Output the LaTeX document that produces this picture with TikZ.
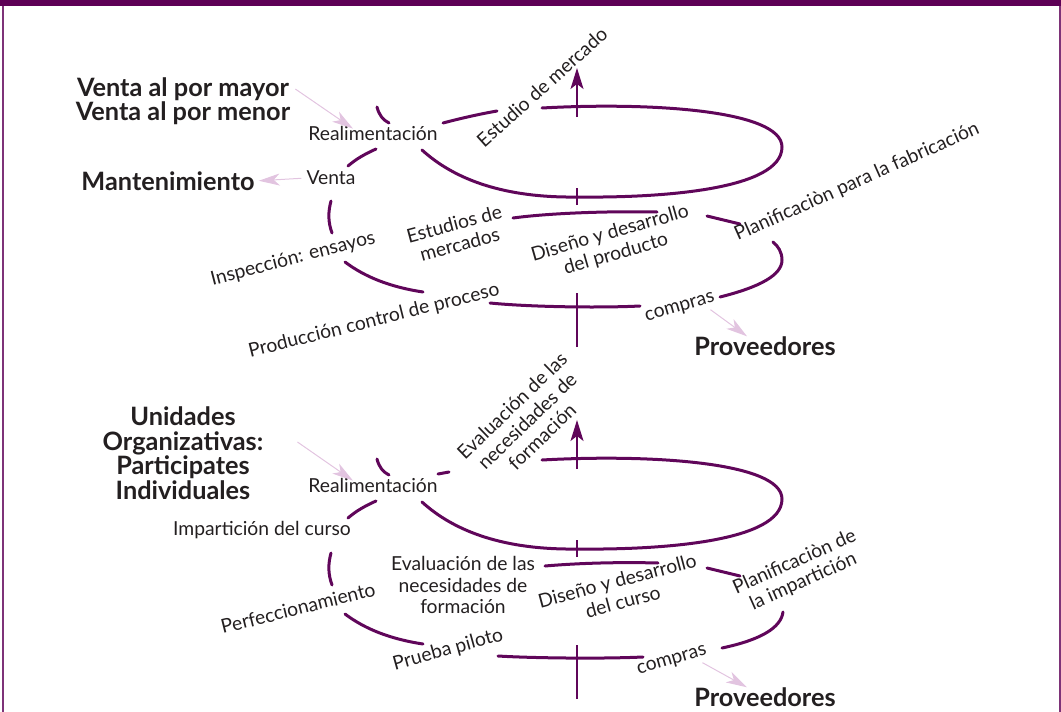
\documentclass[tikz,border=0pt]{standalone}
\usepackage{fontspec}
\setmainfont{Lato}
\usetikzlibrary{arrows.meta}

\definecolor{spiral}{RGB}{96,6,90}
\definecolor{band}{RGB}{94,0,86}
\definecolor{hintpink}{RGB}{226,196,224}
\definecolor{ink}{RGB}{35,31,32}

\begin{document}
\begin{tikzpicture}[
  x=1pt, y=-1pt,
  lbl/.style={font=\fontsize{19.3}{21.5}\selectfont, text=ink, inner sep=0pt, align=center},
  big/.style={font=\bfseries\fontsize{25.3}{24.5}\selectfont, text=ink, inner sep=0pt, align=center},
  coil/.style={draw=spiral, line width=3pt, line cap=round},
  axis/.style={draw=spiral, line width=1.5pt},
  hint/.style={draw=hintpink, line width=1pt, -{Stealth[length=21pt, width=12pt, inset=6pt]}},
  frame/.style={draw=band!80, line width=2pt},
]
  \useasboundingbox (0,0) rectangle (1061,712);
  \fill[band] (0,0) rectangle (1061,6);
  \draw[frame] (3,6) -- (3,712);
  \draw[frame] (1059.5,6) -- (1059.5,712);

  % the coil, same in both halves
  \foreach \dy in {0,352} {
    \begin{scope}[shift={(0,\dy)}]
      \draw[coil] (377,107) .. controls (379,115) and (383,120) .. (389,123);
      \draw[coil] (542,108) .. controls (650,102) and (782,110) .. (782,147)
                  .. controls (782,190) and (660,198) .. (577,197)
                  .. controls (505,198) and (455,180) .. (422,150);
      \draw[coil] (348,166) .. controls (356,159) and (365,154) .. (376,149);
      \draw[coil] (331,201) .. controls (328,212) and (328,222) .. (332,233);
      \draw[coil] (345,262) .. controls (365,277) and (390,287) .. (423,292);
      \draw[coil] (707,216) -- (740,224);
      \draw[axis] (577,347) -- (577,293);
      \draw[axis] (577,205) -- (577,188);
      \draw[axis, -{Stealth[length=21pt, width=13pt, inset=5pt]}] (577,117) -- (577,68);
    \end{scope}
  }

  % upper half: product
  \draw[coil] (443,123) .. controls (462,118) and (480,114) .. (497,111);
  \draw[coil] (513,218) .. controls (550,213) and (610,211) .. (657,212);
  \draw[coil] (720,297) .. controls (760,287) and (782,275) .. (782,260)
              .. controls (782,252) and (778,246) .. (773,242);
  \draw[coil] (490,303) .. controls (530,307) and (600,308) .. (640,306);

  \node[big] (vmay) at (183,101) {Venta al por mayor\\Venta al por menor};
  \node[big] (mant) at (168,181) {Mantenimiento};
  \node[lbl] (real1) at (373,133) {Realimentación};
  \node[lbl] (venta) at (331,178) {Venta};
  \node[lbl, rotate=42] (estm) at (542,87) {Estudio de mercado};
  \node[lbl, rotate=14.5] (insp) at (293,259) {Inspección: ensayos};
  \node[lbl, rotate=15] (estd) at (457,234) {Estudios de\\mercados};
  \node[lbl, rotate=14] (prod) at (374,321) {Producción control de proceso};
  \node[lbl, rotate=16] (dis1) at (613,244) {Diseño y desarrollo\\del producto};
  \node[lbl, rotate=24] (plan1) at (857,182) {Planificaciòn para la fabricación};
  \node[lbl, rotate=16] (comp1) at (680,308) {compras};
  \node[big] (prov1) at (765,346) {Proveedores};

  \draw[hint] ([shift={(5,-12)}]vmay.east) -- ([shift={(-20,3)}]real1.north);
  \draw[hint, shorten <=5pt, shorten >=4pt] (venta.west) -- (mant.east);
  \draw[hint] ([shift={(-6,5)}]comp1.south east) -- ([xshift=-18pt]prov1.north);

  % lower half: training course
  \draw[coil] (438,474) -- (449,472);
  \draw[coil] (545,566) .. controls (580,563) and (620,562) .. (658,563);
  \draw[coil] (722,648) .. controls (760,640) and (781,628) .. (783,612);
  \draw[coil] (498,656) .. controls (530,658) and (600,659) .. (643,657);

  \node[big] (unid) at (183,453) {Unidades\\Organizativas:\\Participates\\Individuales};
  \node[lbl] (real2) at (373,485) {Realimentación};
  \node[lbl] (impart) at (262,530) {Impartición del curso};
  \node[lbl, rotate=44] (evalup) at (527,421) {Evaluación de las\\necesidades de\\formación};
  \node[lbl, rotate=14] (perf) at (298,608) {Perfeccionamiento};
  \node[lbl] (eval) at (463,585) {Evaluación de las\\necesidades de\\formación};
  \node[lbl, rotate=15.5] (prueba) at (448,650) {Prueba piloto};
  \node[lbl, rotate=15] (dis2) at (620,591) {Diseño y desarrollo\\del curso};
  \node[lbl, rotate=24] (plan2) at (799,572) {Planificaciòn de\\la impartición};
  \node[lbl, rotate=16] (comp2) at (672,661) {compras};
  \node[big] (prov2) at (765,697) {Proveedores};

  \draw[hint] ([shift={(34,-11)}]unid.east) -- ([shift={(-20,3)}]real2.north);
  \draw[hint] ([shift={(-6,5)}]comp2.south east) -- ([xshift=-18pt]prov2.north);
\end{tikzpicture}
\end{document}
